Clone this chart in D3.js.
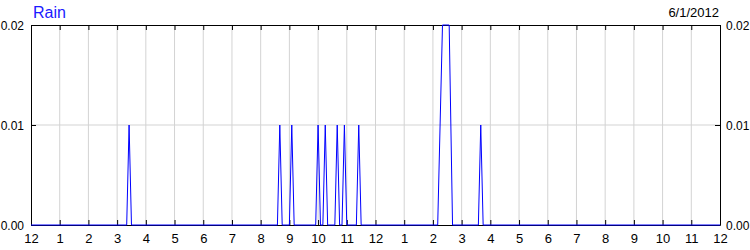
<!DOCTYPE html>
<html>
<head>
<meta charset="utf-8">
<script src="https://cdn.jsdelivr.net/npm/d3@7"></script>
<style>
  body { margin: 0; background: #fff; }
  svg { display: block; font-family: "Liberation Sans", Arial, sans-serif; }
</style>
</head>
<body>
<div id="chart"></div>
<script>
// rain readings for 6/1/2012, time of day -> inches
const dayLabel = "6/1/2012";
const title = "Rain";
const times = ["0:00", "3:20", "3:25", "3:30", "8:35", "8:40", "8:45", "9:00", "9:05", "9:10",
  "9:55", "10:00", "10:05", "10:10", "10:15", "10:20", "10:35", "10:40", "10:45", "10:50",
  "10:55", "11:00", "11:20", "11:25", "11:30", "14:10", "14:20", "14:34", "14:41",
  "15:35", "15:40", "15:45", "24:00"];
const rain = [0, 0, 0.01, 0, 0, 0.01, 0, 0, 0.01, 0,
  0, 0.01, 0, 0, 0.01, 0, 0, 0.01, 0, 0,
  0.01, 0, 0, 0.01, 0, 0, 0.02, 0.02, 0,
  0, 0.01, 0, 0];
const yTicks = [0, 0.01, 0.02];

const width = 750, height = 250;
const margin = { left: 31, right: 30, top: 25, bottom: 25 };

const day = new Date(2012, 5, 1);
const toDate = t => {
  const [h, m] = t.split(":").map(Number);
  return d3.timeMinute.offset(day, h * 60 + m);
};
const data = times.map((t, i) => ({ time: toDate(t), value: rain[i] }));

const svg = d3.select("#chart").append("svg")
  .attr("width", width)
  .attr("height", height);

const x = d3.scaleTime()
  .domain([day, d3.timeDay.offset(day, 1)])
  .range([margin.left, width - margin.right]);

const y = d3.scaleLinear()
  .domain([0, 0.02])
  .range([height - margin.bottom, margin.top]);

const hours = d3.timeHour.range(day, d3.timeHour.offset(day, 25));

// grid
svg.append("g")
  .selectAll("line")
  .data(hours.slice(1, -1))
  .join("line")
  .attr("x1", d => x(d)).attr("x2", d => x(d))
  .attr("y1", y(0.02)).attr("y2", y(0))
  .attr("stroke", "#d3d3d3");

svg.append("line")
  .attr("x1", x.range()[0]).attr("x2", x.range()[1])
  .attr("y1", y(0.01)).attr("y2", y(0.01))
  .attr("stroke", "#d3d3d3");

// axes
const fmtHour = d3.timeFormat("%-I");

const bottom = svg.append("g")
  .attr("transform", `translate(0,${y(0)})`)
  .call(d3.axisBottom(x).tickValues(hours).tickFormat(fmtHour).tickSizeInner(-5).tickSizeOuter(0));
bottom.selectAll("text").attr("y", 18).attr("dy", null).style("font-size", "13px");

svg.append("g")
  .attr("transform", `translate(0,${y(0.02)})`)
  .call(d3.axisTop(x).tickValues(hours).tickFormat("").tickSizeInner(-5).tickSizeOuter(0));

const left = svg.append("g")
  .attr("transform", `translate(${x.range()[0]},0)`)
  .call(d3.axisLeft(y).tickValues(yTicks).tickFormat(d3.format(".2f")).tickSizeInner(-5).tickSizeOuter(0));
left.selectAll("text").attr("x", -7).attr("dy", "0.35em").style("font-size", "12px");

const right = svg.append("g")
  .attr("transform", `translate(${x.range()[1]},0)`)
  .call(d3.axisRight(y).tickValues(yTicks).tickFormat(d3.format(".2f")).tickSizeInner(-5).tickSizeOuter(0));
right.selectAll("text").attr("x", 6).attr("dy", "0.35em").style("font-size", "12px");

svg.selectAll(".domain").attr("stroke", "#000");
svg.selectAll(".tick line").attr("stroke", "#000");
svg.selectAll(".tick text").attr("fill", "#000");

// series
const line = d3.line()
  .x(d => x(d.time))
  .y(d => y(d.value));

svg.append("path")
  .datum(data)
  .attr("d", line)
  .attr("fill", "none")
  .attr("stroke", "#0000ff")
  .attr("stroke-width", 1);

// labels
svg.append("text")
  .attr("x", 33).attr("y", 18)
  .attr("fill", "#1a1aff")
  .style("font-size", "16px")
  .text(title);

svg.append("text")
  .attr("x", x.range()[1] - 1).attr("y", 17)
  .attr("text-anchor", "end")
  .attr("fill", "#000")
  .style("font-size", "13px")
  .text(dayLabel);
</script>
</body>
</html>
